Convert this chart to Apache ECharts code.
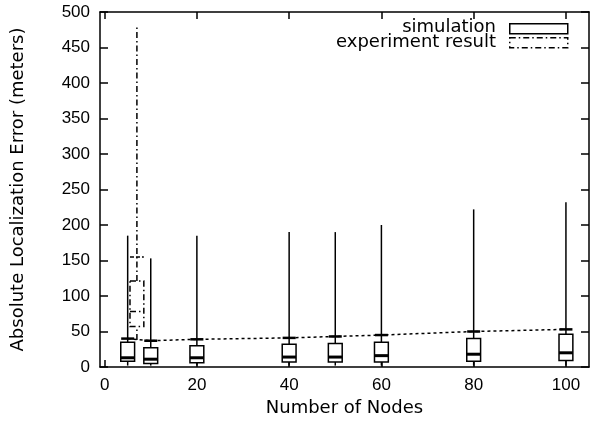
<!DOCTYPE html>
<html><head><meta charset="utf-8">
<script src="https://cdn.jsdelivr.net/npm/echarts@6/dist/echarts.min.js"></script>
<style>html,body{margin:0;padding:0;background:#fff}#c{width:590px;height:435px}</style>
</head><body><div id="c"></div>
<script>
// ---- data ----
const X_TICKS = [0, 20, 40, 60, 80, 100];
const X_MIN = -1, X_MAX = 105;
const Y_MIN = 0, Y_MAX = 500, Y_STEP = 50;

const SIM_NODES = [5, 10, 20, 40, 50, 60, 80, 100];
const SIM_MIN   = [2, 2, 2, 2, 2, 2, 2, 2];
const SIM_Q1    = [8, 5, 6, 7, 7, 7, 8, 9];
const SIM_MED   = [13, 11, 13, 14, 14, 16, 18, 20];
const SIM_Q3    = [35, 27, 30, 32, 33, 35, 40, 46];
const SIM_MAX   = [185, 153, 185, 190, 190, 200, 222, 232];

const EXP_NODES = [7];
const EXP_MIN   = [38];
const EXP_Q1    = [57];
const EXP_MED   = [78];
const EXP_Q3    = [121];
const EXP_MAX   = [480];
const EXP_MARK  = [155];

const LINE_NODES  = [5, 10, 20, 40, 50, 60, 80, 100];
const LINE_VALUES = [40, 37, 39, 41, 43, 45, 50, 53];

const LEGEND_NAMES = ['simulation', 'experiment result'];

// ---- style ----
const BOX_WIDTH = 3;
const FONT = 'Liberation Sans, Arial, sans-serif';
const NAME_FONT = 'DejaVu Sans, sans-serif';
const DASHDOT = [6, 3, 1.5, 3];

function boxRenderer(dash, medWidth, hasMark) {
  return function (params, api) {
    const x = api.value(0);
    const pMin = api.coord([x, api.value(1)]);
    const pQ1 = api.coord([x, api.value(2)]);
    const pMed = api.coord([x, api.value(3)]);
    const pQ3 = api.coord([x, api.value(4)]);
    const pMax = api.coord([x, api.value(5)]);
    const hw = api.size([BOX_WIDTH, 0])[0] / 2;
    const st = { stroke: '#000', lineWidth: 1.5, fill: null, lineDash: dash };
    const ch = [
      { type: 'line', shape: { x1: pMin[0], y1: pMin[1], x2: pQ1[0], y2: pQ1[1] }, style: st },
      { type: 'line', shape: { x1: pQ3[0], y1: pQ3[1], x2: pMax[0], y2: pMax[1] }, style: st },
      { type: 'rect', shape: { x: pQ3[0] - hw, y: pQ3[1], width: 2 * hw, height: pQ1[1] - pQ3[1] },
        style: Object.assign({}, st, { fill: '#fff' }) },
      { type: 'line', shape: { x1: pMed[0] - hw, y1: pMed[1], x2: pMed[0] + hw, y2: pMed[1] },
        style: { stroke: '#000', lineWidth: medWidth, lineDash: dash } }
    ];
    if (hasMark) {
      const pMk = api.coord([x, api.value(6)]);
      ch.push({ type: 'line', shape: { x1: pMk[0] - hw, y1: pMk[1], x2: pMk[0] + hw, y2: pMk[1] },
        style: { stroke: '#000', lineWidth: 1.5, lineDash: [4, 2] } });
    }
    return { type: 'group', children: ch };
  };
}

const simData = SIM_NODES.map((n, i) => [n, SIM_MIN[i], SIM_Q1[i], SIM_MED[i], SIM_Q3[i], SIM_MAX[i]]);
const expData = EXP_NODES.map((n, i) => [n, EXP_MIN[i], EXP_Q1[i], EXP_MED[i], EXP_Q3[i], EXP_MAX[i], EXP_MARK[i]]);
const lineData = LINE_NODES.map((n, i) => [n, LINE_VALUES[i]]);

function mkLine() { return { show: true, onZero: false, lineStyle: { color: '#000', width: 1.5 } }; }
function mkXTick() { return { show: true, inside: true, length: 7, customValues: X_TICKS.slice(), lineStyle: { color: '#000', width: 1.5 } }; }
function mkYTick() { return { show: true, inside: true, length: 8, lineStyle: { color: '#000', width: 1.5 } }; }

const chart = echarts.init(document.getElementById('c'), null, { renderer: 'canvas' });
chart.setOption({
  animation: false,
  backgroundColor: '#fff',
  grid: { left: 100, right: 1, top: 12, bottom: 68 },
  xAxis: [
    { type: 'value', position: 'bottom', min: X_MIN, max: X_MAX,
      name: 'Number of Nodes', nameLocation: 'middle', nameGap: 30,
      nameTextStyle: { fontFamily: NAME_FONT, fontSize: 18, color: '#000' },
      axisLine: mkLine(), axisTick: mkXTick(),
      axisLabel: { customValues: X_TICKS.slice(), fontFamily: FONT, fontSize: 17, color: '#000', margin: 10 },
      splitLine: { show: false } },
    { type: 'value', position: 'top', min: X_MIN, max: X_MAX,
      axisLine: mkLine(), axisTick: mkXTick(), axisLabel: { show: false }, splitLine: { show: false } }
  ],
  yAxis: [
    { type: 'value', position: 'left', min: Y_MIN, max: Y_MAX, interval: Y_STEP,
      name: 'Absolute Localization Error (meters)', nameLocation: 'middle', nameGap: 73,
      nameTextStyle: { fontFamily: NAME_FONT, fontSize: 18, color: '#000' },
      axisLine: mkLine(), axisTick: mkYTick(),
      axisLabel: { fontFamily: FONT, fontSize: 17, color: '#000', margin: 10 },
      splitLine: { show: false } },
    { type: 'value', position: 'right', min: Y_MIN, max: Y_MAX, interval: Y_STEP,
      axisLine: mkLine(), axisTick: mkYTick(), axisLabel: { show: false }, splitLine: { show: false } }
  ],
  graphic: [
    { type: 'text', right: 94, top: 18, style: { text: LEGEND_NAMES[0], font: '18px ' + NAME_FONT, fill: '#000', align: 'right' } },
    { type: 'text', right: 94, top: 33, style: { text: LEGEND_NAMES[1], font: '18px ' + NAME_FONT, fill: '#000', align: 'right' } },
    { type: 'rect', left: 509, top: 23, shape: { width: 58, height: 10 }, style: { fill: '#fff', stroke: '#000', lineWidth: 1.5 } },
    { type: 'rect', left: 509, top: 37, shape: { width: 58, height: 10 }, style: { fill: '#fff', stroke: '#000', lineWidth: 1.5, lineDash: DASHDOT } }
  ],
  series: [
    { name: 'trend', type: 'line', data: lineData, xAxisIndex: 0, yAxisIndex: 0,
      lineStyle: { color: '#000', width: 1.5, type: [3, 3] },
      symbol: 'rect', symbolSize: [13, 2.5], itemStyle: { color: '#000' }, z: 1 },
    { name: LEGEND_NAMES[0], type: 'custom', data: simData, renderItem: boxRenderer(null, 3, false),
      encode: { x: 0, y: [1, 2, 3, 4, 5] }, z: 2 },
    { name: LEGEND_NAMES[1], type: 'custom', data: expData, renderItem: boxRenderer(DASHDOT, 1.5, true),
      encode: { x: 0, y: [1, 2, 3, 4, 5, 6] }, z: 3 }
  ]
});
</script></body></html>
